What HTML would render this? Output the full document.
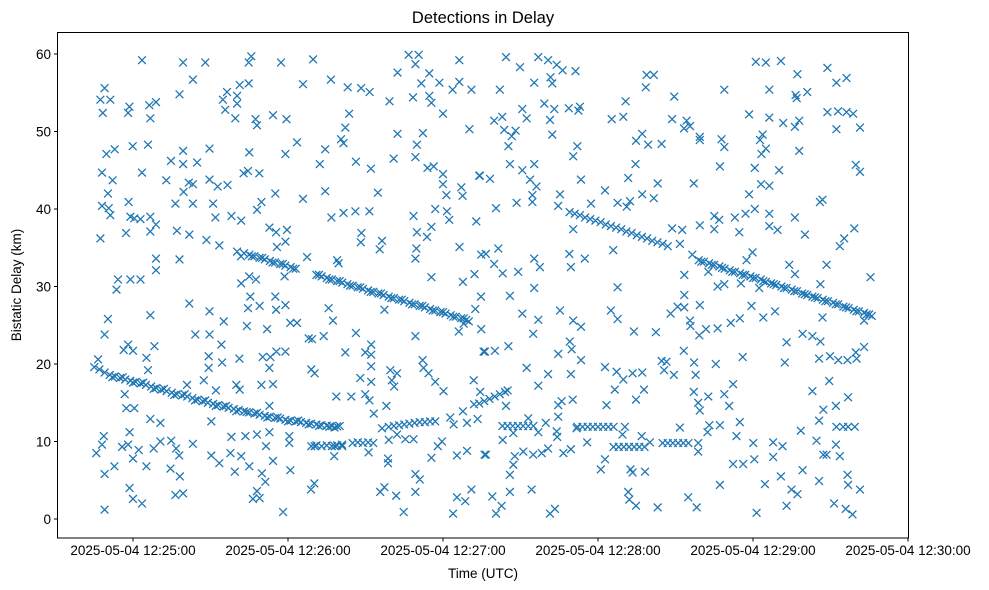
<!DOCTYPE html>
<html><head><meta charset="utf-8"><style>
body{margin:0;background:#fff}
svg{display:block;font-family:"Liberation Sans","DejaVu Sans",sans-serif}
</style></head><body>
<svg id="chart" width="989" height="590" viewBox="0 0 989 590" xmlns="http://www.w3.org/2000/svg">
<rect width="989" height="590" fill="#fff"/>
<text x="483" y="23" font-size="16.5" text-anchor="middle" fill="#000">Detections in Delay</text>
<g id="marks"></g>
<rect x="57.5" y="32.5" width="851" height="505.5" fill="none" stroke="#000" stroke-width="1"/>
<g id="xaxis"></g>
<g id="yaxis"></g>
<text x="483" y="578" font-size="13.5" text-anchor="middle">Time (UTC)</text>
<text transform="translate(21,285) rotate(-90)" font-size="13.5" text-anchor="middle">Bistatic Delay (km)</text>
</svg>
<script>
// time in seconds after 12:24:00, delay in km
const xTickSeconds=[60,120,180,240,300,360];
const xTickLabels=["2025-05-04 12:25:00","2025-05-04 12:26:00","2025-05-04 12:27:00","2025-05-04 12:28:00","2025-05-04 12:29:00","2025-05-04 12:30:00"];
const yTickValues=[0,10,20,30,40,50,60];
const trackA=[[45,19.6],[47,19.3],[49,18.9],[51,18.6],[53,18.4],[55,18.2],[57,18],[59,17.85],[61,17.7],[63,17.5],[65,17.3],[67,17.1],[69,16.9],[71,16.7],[73,16.5],[75,16.3],[77,16.1],[79,15.95],[81,15.8],[83,15.6],[85,15.4],[87,15.2],[89,15],[91,14.85],[93,14.7],[95,14.5],[97,14.35],[99,14.2],[101,14.05],[103,13.9],[105,13.75],[107,13.6],[109,13.45],[111,13.3],[113,13.2],[115,13.05],[117,12.95],[119,12.8],[121,12.7],[123,12.6],[125,12.5],[127,12.4],[129,12.3],[131,12.2],[133,12.1],[135,12.05],[137,12],[139,11.95]];
const trackAExtra=[[52,18.3],[56,18.3],[60,17.6],[64,17.6],[68,16.8],[72,16.8],[76,16],[80,16.1],[84,15.3],[88,15.3],[92,14.6],[96,14.6],[100,13.9],[104,13.8],[108,13.7],[112,13.1],[116,13.1],[120,12.6],[124,12.7],[128,12.2],[132,12],[136,11.9],[138,11.8],[140,12]];
const trackB=[[103,34.3],[105,34.1],[107,33.9],[109,33.7],[111,33.5],[113,33.3],[115,33.1],[117,32.9],[119,32.7],[121,32.5],[123,32.3],[131,31.5],[133,31.3],[135,31.1],[137,30.9],[139,30.7],[141,30.5],[143,30.3],[145,30.1],[147,29.9],[149,29.7],[151,29.5],[153,29.3],[155,29.1],[157,28.9],[159,28.7],[161,28.5],[163,28.3],[165,28.1],[167,27.9],[169,27.7],[171,27.5],[173,27.3],[175,27.1],[177,26.9],[179,26.7],[181,26.5],[183,26.3],[185,26.1],[187,25.9],[189,25.7]];
const trackBExtra=[[106,33.9],[110,33.7],[114,33.1],[118,32.9],[122,32.3],[132,31.5],[136,30.9],[140,30.7],[144,30.1],[148,29.9],[152,29.3],[156,29.1],[160,28.5],[164,28.3],[168,27.7],[172,27.5],[176,26.9],[180,26.7],[184,26.1],[188,25.9],[188,25.2],[190,25.5]];
const trackC=[[229,39.6],[231,39.4],[233,39.2],[235,38.9],[237,38.7],[239,38.5],[241,38.3],[243,38],[245,37.8],[247,37.6],[249,37.4],[251,37.1],[253,36.9],[255,36.6],[257,36.4],[259,36.2],[261,35.9],[263,35.7],[265,35.5],[267,35.2]];
const trackD=[[279,33.4],[281,33.2],[283,33],[285,32.8],[287,32.6],[289,32.3],[291,32.1],[293,31.9],[295,31.7],[297,31.5],[299,31.3],[301,31.1],[303,30.9],[305,30.6],[307,30.4],[309,30.2],[311,30],[313,29.8],[315,29.6],[317,29.4],[319,29.1],[321,28.9],[323,28.7],[325,28.5],[327,28.3],[329,28.1],[331,27.9],[333,27.7],[335,27.4],[337,27.2],[339,27],[341,26.8],[343,26.6],[345,26.4]];
const trackDExtra=[[280,33.2],[284,32.8],[288,32.4],[292,31.9],[296,31.5],[300,31.1],[304,30.7],[308,30.3],[312,29.8],[316,29.4],[320,29],[324,28.6],[328,28.1],[332,27.7],[336,27.3],[340,26.8],[344,26.4],[346,26.2]];
const shortSegments=[[129,9.4],[131,9.5],[133,9.4],[135,9.5],[137,9.4],[139,9.5],[141,9.4],[145,9.8],[147,9.9],[149,9.8],[151,9.9],[153,9.8],[159,11.9],[161,12],[163,12.1],[165,12.2],[167,12.3],[169,12.4],[171,12.5],[173,12.5],[175,12.6],[177,12.6],[192,14.8],[194,14.9],[196,15.2],[198,15.5],[200,15.8],[202,16.1],[204,16.4],[205,16.6],[203,12],[205,12],[207,12],[209,12],[211,12],[213,12],[215,12],[232,11.9],[234,11.9],[236,11.9],[238,11.9],[240,11.9],[242,11.9],[244,11.9],[246,11.9],[246,9.3],[248,9.3],[250,9.3],[252,9.3],[254,9.3],[256,9.3],[258,9.3],[265,9.8],[267,9.8],[269,9.8],[271,9.8],[273,9.8],[275,9.8]];
const noiseLeft=[[63.5,59.2],[79.4,58.9],[88,58.9],[105.8,59.7],[104.8,58.9],[117.3,58.9],[129.7,59.3],[166.7,59.9],[170.6,59.9],[169.3,58.7],[186.3,59.2],[83.2,56.7],[162.4,57.6],[125.8,56.1],[136.6,56.7],[143.1,55.7],[148.3,55.6],[151.6,55.1],[174.7,57.5],[178.6,56.3],[186.3,56.4],[171.6,56.2],[183.7,55.4],[191,55.4],[49,55.6],[47.4,54.1],[51.2,54.1],[48.3,52.4],[58.6,53.2],[58.1,52.4],[66.3,53.4],[68.9,53.8],[66.7,51.7],[78,54.8],[96.4,55.1],[101.3,56],[104.8,56.2],[94.8,54.1],[100.3,54.6],[95.7,52.8],[100.3,53.6],[99.6,51.7],[107.4,51.6],[108,50.8],[114.2,52.1],[119.4,51.6],[159.3,53.9],[168.4,54.4],[174.7,54.6],[175.5,53.7],[180,52.3],[190.2,50.3],[143.7,52.3],[142.2,50.5],[140.5,49],[141.5,48.5],[162.4,49.7],[172.2,49.8],[169.9,48.3],[169.3,46.7],[160.9,46.5],[49.7,47.1],[52.9,47.7],[59.9,48.1],[65.8,48.3],[89.6,47.8],[79.4,47.5],[105,47.3],[119,47.1],[123.5,48.6],[134.4,47.7],[48,44.7],[52.1,43.7],[63.5,44.7],[74.7,46.2],[79.4,45.8],[84.8,46],[72.9,43.7],[81.6,43.4],[79.6,42.2],[83.2,43.2],[89.6,43.8],[92.8,42.9],[96.6,43.1],[102.8,44.6],[104.5,44.9],[108.9,44.6],[132.3,45.8],[146.3,46.1],[152.1,45.2],[174,45.3],[176.4,45.5],[180,44.5],[180,43.2],[181.3,41.8],[187.1,42.8],[187.6,41.7],[194,44.3],[50.3,42],[48,40.4],[50.6,40.1],[51.2,39.2],[58.3,40.9],[59,39],[60.5,38.8],[62.9,38.7],[66.7,39],[68.9,38],[66.7,37.1],[57.3,36.9],[47.4,36.2],[76.4,40.7],[83.2,40.7],[91,40.7],[91.9,38.9],[98.1,39.1],[101.9,38.5],[77,37.2],[81.8,36.7],[88.4,36],[93.4,35.3],[109.7,40.9],[108,39.9],[115.1,42],[125.8,41.3],[134.4,42.3],[136.8,38.9],[141.5,39.5],[146.1,39.7],[151.5,39.7],[154.8,42.1],[168.6,39.1],[177,40],[181.5,39.7],[182.4,38.6],[192.9,38.4],[175.5,37.7],[169.9,37],[173.8,36.4],[186.4,35.1],[169.7,34.9],[169.3,33.6],[112.8,37.6],[115.4,37],[119.6,37.3],[119,35.8],[115.7,35.1],[148.4,36.9],[148.2,35.7],[156.4,35.9],[155.5,34.8],[68.9,33.6],[68.9,32.1],[78,33.5],[54.2,30.9],[59,30.9],[62.9,30.9],[53.6,29.6],[100.3,34.5],[101.8,33.9],[127.4,33.8],[139.6,33],[139,33.4],[101.9,30.4],[105,31.3],[107.6,30.9],[118.7,31.3],[175.5,31.2],[187.7,30.6],[192.2,31.6],[194.8,34.1],[81.8,27.8],[66.7,26.3],[50.3,25.8],[49,23.8],[105.4,28.7],[109,27.5],[104.5,27.2],[115.1,28.7],[119,27.6],[115.4,27],[135.7,27.2],[137.4,25.6],[157.3,27],[194.7,28.7],[192.5,27.1],[95.1,25.5],[104.1,24.9],[111.9,24.5],[120.9,25.3],[123.5,25.3],[84.1,23.8],[89.6,23.8],[89.6,26.8],[94.2,22.5],[128,23.3],[129.3,23.2],[133.8,23.6],[146.3,24],[169.3,23.6],[186.1,24.2],[194.8,24.5],[195.7,21.6],[142.2,21.5],[149.9,21.5],[152.2,22.5],[152.2,21.2],[152.2,19.7],[172.1,20.5],[172.5,19.5],[174.4,18.8],[177,17.7],[180.2,16.5],[191.9,17.9],[194.4,16.4],[159.6,19.2],[162.2,18.8],[160.2,17.9],[161.1,17.1],[148,18.2],[152.2,17.7],[56.4,21.8],[58.1,22.5],[60,21.7],[68.3,22.3],[65.2,20.8],[65.8,19.2],[46.5,20.6],[89.3,21],[89.3,19.5],[94.5,20.2],[101.2,20.7],[110.2,20.9],[113.2,20.9],[115.5,21.6],[119,21.6],[112.8,19.5],[87.4,17.9],[92.1,16.6],[80.9,17.3],[100,17.3],[101.3,16.7],[109.7,17.3],[114.2,17.4],[129,19.3],[130.3,18.8],[138.7,15.8],[144.5,15.8],[149.9,16.1],[151.5,15.3],[153.2,13.6],[158.1,14.6],[56.8,16.1],[57.4,14.3],[60.5,14.3],[90.3,12.6],[112.8,14.6],[66.7,12.9],[70.6,12.4],[182.8,13.1],[187.7,13.9],[193.4,12.9],[184.1,12.2],[48.7,10.7],[48,9.6],[45.8,8.5],[55.8,9.3],[58.7,11.2],[58.1,9.6],[62.2,8.9],[60,7.8],[68,9.1],[70.6,10],[74.8,10.1],[76.7,9.1],[77.9,8.2],[83.2,9.7],[90.3,8.2],[93.4,7.2],[97.7,8.5],[101.9,8.1],[98.1,10.6],[103.5,10.7],[108,10.9],[112.8,11.2],[111.5,9.4],[120.5,10.7],[120.5,9.8],[114.2,7.5],[105,6.8],[99.4,6.1],[49,5.8],[52.8,6.8],[65.2,6.8],[74.5,6.5],[78.1,5.5],[109.9,5.9],[111.2,4.8],[120.9,6.3],[130.2,4.6],[128.9,3.8],[137.9,8.1],[58.7,4],[60,2.6],[63.5,2],[76.4,3.1],[79.4,3.3],[108,3.6],[106.4,2.6],[109,2.7],[49,1.2],[118.1,0.9],[155.7,3.5],[157.3,4.1],[161.9,3],[164.8,0.9],[169.3,3.5],[169.3,5.8],[171,5.1],[183.9,0.7],[185.4,2.8],[188.6,2.3],[191,3.8],[185.4,8.2],[189.3,8.8],[196.1,8.3],[158.7,7.8],[158.7,7.2],[175.5,7.9],[178,9.4],[179.6,10],[156.4,11.7],[159,10.2],[162.2,10.9],[165.4,10.3],[168.6,10.3],[130.3,9.4],[138.1,9.4],[140.9,9.6],[151.2,8.6],[189.3,12.4]];
const noiseRight=[[204.4,59.6],[216.9,59.6],[220.7,59.2],[224,58.6],[209.8,58.3],[226.3,57.9],[231.3,57.8],[221.6,57],[215.3,56.3],[222.3,56.2],[202,55.4],[219.2,53.6],[210.7,52.9],[223.1,52.9],[228.7,53],[233,53.2],[232.4,52.7],[199.8,51.4],[202.9,51.9],[212.4,51.7],[221.4,51.5],[203.7,50.2],[206.6,49.4],[208.1,50.1],[222.3,49.6],[205.3,48.1],[232,48.1],[230.4,46.8],[205.9,45.8],[210.7,45],[215.3,45.8],[213.7,43.8],[216.2,42.9],[214.6,41.8],[214.6,40.9],[233.4,43.8],[225.3,41.9],[224.6,40.4],[208.5,40.8],[200.5,40.1],[198.2,43.9],[194.3,44.3],[258.8,57.3],[261.6,57.3],[258.5,55.7],[269.5,54.5],[250.7,53.9],[249.8,51.9],[245.3,51.6],[268.7,51.6],[274.3,51.4],[275.6,50.7],[273.3,50.4],[254.7,48.8],[257.1,49.7],[259.4,48.3],[264.6,48.4],[279.4,49.3],[279.4,48.9],[287.8,49],[288.9,48],[254.5,45.8],[251.7,44],[263.1,43.3],[277.1,43.3],[287.2,45.5],[288.9,55.4],[242.7,42.4],[257.1,41.9],[261.6,41.4],[247.6,40.8],[251.1,40.3],[252.4,41],[237.3,40.7],[301.1,59],[305,58.9],[310.8,59.1],[317.2,57.4],[328.8,58.2],[332.3,56.3],[336.2,56.9],[306.3,55.4],[316.5,54.7],[316.9,54.3],[321,55.1],[298.5,52.2],[306.3,51.8],[311.7,51.1],[316.2,50.6],[317.9,51.4],[328.8,52.5],[332.9,52.6],[336.2,52.5],[338.8,52.3],[332.3,50.3],[341.4,50.5],[303.7,49.6],[302.7,48.9],[305,47.8],[303.3,47.1],[317.9,47.5],[300.7,45.3],[310.1,45],[303.1,43.2],[306.3,43],[298.5,41.9],[300.7,40],[339.8,45.7],[341.4,44.8],[325.9,40.9],[326.9,41.2],[306.3,39.4],[309.5,37.3],[306.3,37.8],[316.2,38.9],[320.1,36.7],[339.2,37.5],[335.3,36.2],[333.6,35.2],[268.7,37.5],[272.6,37.3],[279.4,37.9],[285,39.1],[286.9,38.6],[285,37.4],[293,38.9],[297.1,39.4],[294.7,37],[299.8,34.4],[297.5,33.4],[276.5,34.1],[273.4,31.5],[273.4,28.9],[271.7,35.5],[314,32.8],[316.2,31.6],[328.5,32.8],[326.1,30.3],[345.5,31.2],[247.6,29.9],[245.9,34.7],[282.7,31.9],[286.3,30],[288.9,30.3],[295.3,30.4],[302.4,29.8],[299.4,27.5],[304,26],[308.5,26.8],[326.9,26],[343,25.6],[279.2,23.7],[281.8,24.5],[286.3,24.6],[291.4,25.3],[294.9,25.9],[268.1,26.5],[270.8,27.4],[273.4,27.3],[275.6,25.6],[275.8,24.9],[279.4,27.6],[313,22.8],[312.3,20.2],[319.2,23.9],[323,23.6],[326.1,22.9],[325.6,20.7],[329.8,21],[333,20.5],[336.6,20.5],[340.1,20.7],[339.8,21.5],[343,22.2],[296,20.9],[285.6,20],[277.2,20.2],[273.2,21.7],[264.6,20.4],[266.5,20.3],[265.6,19.2],[269.4,18.6],[277.8,18.6],[277.1,16.4],[278.8,15],[279.4,14],[282.7,15.8],[288.9,16.1],[292.3,17.4],[290.8,14.6],[323,16.5],[329.5,17.8],[336.8,15.7],[332.1,14.6],[327.2,14.1],[325.6,12.7],[324.6,10.1],[318.5,11.4],[332.3,11.9],[334.9,11.9],[336.8,11.9],[339.4,11.9],[332.1,9.6],[327.2,8.3],[328.5,8.3],[333.6,8.1],[300.1,9.8],[307.8,9.9],[311.4,9.4],[307.8,8],[300.5,7.7],[292.3,7.1],[296.2,7.1],[319.2,6.3],[310.8,5.5],[304.6,4.5],[287.2,4.4],[325.6,4.9],[336.6,5.7],[336.8,4.4],[341.4,3.8],[314.9,3.8],[317.2,3.2],[313,1.7],[301.4,0.8],[331.4,2],[335.9,1.3],[338.5,0.6],[283.1,12.1],[287.2,12.1],[294.9,12.5],[293.6,10.7],[282.4,11.2],[271.7,11.8],[278.8,9.8],[278.8,8.7],[242.7,19.6],[247.2,19],[249.8,18],[253.4,18.8],[257.1,18.9],[246.5,16.7],[254.7,15.4],[257.8,16.7],[243.3,14.7],[250.4,11.9],[249.5,10.9],[256.9,10.7],[260.1,9.9],[242.7,7.7],[241.1,6.4],[252.6,6.4],[253.4,6],[258.2,6.1],[251.7,3.5],[252.1,2.5],[254.7,1.7],[263.1,1.5],[274.9,2.8],[278.2,1.5],[229.5,18.7],[233.4,20.5],[229.8,21.9],[229.1,22.9],[224.6,21.3],[220.7,18.7],[216.9,17.2],[212.4,19.5],[205.3,22.3],[200.1,21.7],[196.2,21.6],[214.9,23.9],[216.9,25.7],[210.7,26.5],[205.9,28.8],[215.3,29.8],[209.1,31.9],[203.1,31.7],[199.8,32.9],[201.4,34.9],[196.6,34.2],[215.3,33.6],[217.5,32.5],[228.9,34.2],[229.5,32.5],[234.9,33.6],[225.3,26.9],[230.4,25.6],[233.4,24.8],[245,26.9],[247.6,25.8],[253.9,24.2],[262.4,24.1],[230.4,37.4],[224.6,14.7],[225.9,15.2],[230.2,15.4],[224.6,13.2],[224,11.3],[224.2,10.6],[219.8,12.4],[216.9,11.2],[213,13],[204.4,14.6],[207.2,11.1],[203.1,10.2],[207.8,8.1],[211.1,8.7],[214.9,8.3],[218.2,8.5],[220.7,9.1],[226.6,8.5],[229.5,9],[235.8,9.9],[196.6,8.3],[205.9,5.7],[207.2,7],[205.9,3.5],[214.3,3.8],[199.1,2.9],[202.7,1.7],[200.5,0.7],[221.4,0.7],[223.3,1.3],[231.7,11.7]];

const NS='http://www.w3.org/2000/svg';
function xScale(t){return 133+(t-60)*155/60;}
function yScale(v){return 519-7.75*v;}
const marks=document.getElementById('marks');
function drawSeries(arr,name){
  let d='';
  for(const p of arr){
    const x=xScale(p[0]),y=yScale(p[1]),r=3.9;
    d+='M'+(x-r).toFixed(1)+' '+(y-r).toFixed(1)+'L'+(x+r).toFixed(1)+' '+(y+r).toFixed(1)+'M'+(x-r).toFixed(1)+' '+(y+r).toFixed(1)+'L'+(x+r).toFixed(1)+' '+(y-r).toFixed(1);
  }
  const path=document.createElementNS(NS,'path');
  path.setAttribute('d',d);
  path.setAttribute('stroke','#1f77b4');
  path.setAttribute('stroke-width','1.3');
  path.setAttribute('fill','none');
  
  
  marks.appendChild(path);
}
drawSeries(noiseLeft,'noise-detections-left');
drawSeries(noiseRight,'noise-detections-right');
drawSeries(trackA,'track-a-points');
drawSeries(trackAExtra,'track-a-extra-points');
drawSeries(trackB,'track-b-points');
drawSeries(trackBExtra,'track-b-extra-points');
drawSeries(trackC,'track-c-points');
drawSeries(trackD,'track-d-points');
drawSeries(trackDExtra,'track-d-extra-points');
drawSeries(shortSegments,'short-segment-points');

const xa=document.getElementById('xaxis');
xTickSeconds.forEach((s,i)=>{
  const x=xScale(s);
  const l=document.createElementNS(NS,'line');
  l.setAttribute('x1',x);l.setAttribute('x2',x);l.setAttribute('y1',538);l.setAttribute('y2',541.5);
  l.setAttribute('stroke','#000');
  
  
  xa.appendChild(l);
  const t=document.createElementNS(NS,'text');
  t.setAttribute('x',x);t.setAttribute('y',555);t.setAttribute('font-size','13.5');t.setAttribute('text-anchor','middle');
  t.textContent=xTickLabels[i];
  
  
  xa.appendChild(t);
});
const ya=document.getElementById('yaxis');
yTickValues.forEach(v=>{
  const y=yScale(v);
  const l=document.createElementNS(NS,'line');
  l.setAttribute('x1',54);l.setAttribute('x2',57.5);l.setAttribute('y1',y);l.setAttribute('y2',y);
  l.setAttribute('stroke','#000');
  
  
  ya.appendChild(l);
  const t=document.createElementNS(NS,'text');
  t.setAttribute('x',51);t.setAttribute('y',y+5);t.setAttribute('font-size','13.5');t.setAttribute('text-anchor','end');
  t.textContent=String(v);
  
  
  ya.appendChild(t);
});
</script>
</body></html>
